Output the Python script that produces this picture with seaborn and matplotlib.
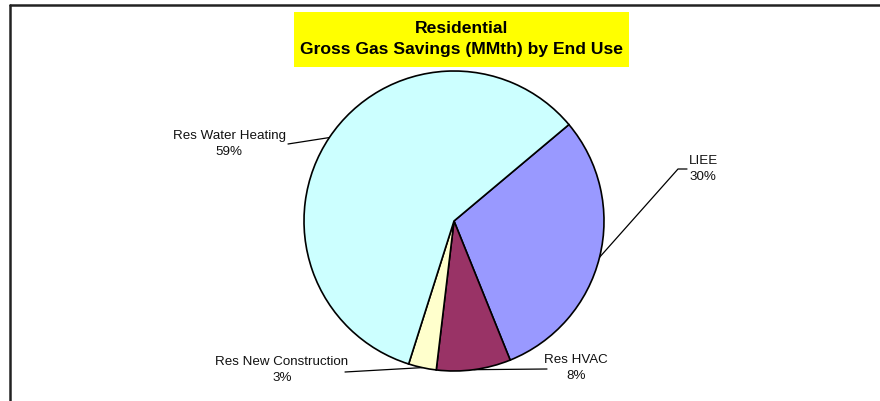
import numpy as np
import matplotlib
matplotlib.use("Agg")
import matplotlib.pyplot as plt
from matplotlib.lines import Line2D
import seaborn as sns

# Residential gross gas savings shares by end use (percent)
categories = ["LIEE", "Res HVAC", "Res New Construction", "Res Water Heating"]
shares = [30, 8, 3, 59]
colors_hex = ["#9999FF", "#993366", "#FFFFCC", "#CCFFFF"]

sns.set_theme(style="white")
plt.rcParams["font.family"] = ["Liberation Sans", "DejaVu Sans"]
palette = sns.color_palette(colors_hex)

W, H = 880, 401
fig = plt.figure(figsize=(W / 100, H / 100), dpi=100)
fig.patch.set_facecolor("white")

def fx(px):
    return px / W

def fy(py):
    return 1 - py / H

# pie axes: centre (454, 221) px, radius 150 px
cx, cy, r = 454, 221, 150
ax = fig.add_axes([fx(cx - r), fy(cy + r), 2 * r / W, 2 * r / H])
wedges, _ = ax.pie(shares, colors=palette, startangle=40, counterclock=False,
                   radius=1.0, wedgeprops=dict(edgecolor="black", linewidth=1.2))
ax.set_xlim(-1, 1)
ax.set_ylim(-1, 1)
ax.set_aspect("equal")
ax.axis("off")

def edge_point(w):
    ang = np.deg2rad((w.theta1 + w.theta2) / 2)
    return cx + r * np.cos(ang), cy - r * np.sin(ang)

def leader(points):
    xs = [fx(p[0]) for p in points]
    ys = [fy(p[1]) for p in points]
    fig.add_artist(Line2D(xs, ys, color="black", linewidth=0.9))

label_style = dict(fontsize=9.6, ha="center", va="center", multialignment="center",
                   linespacing=1.45, color="#111111")

# LIEE
liee = wedges[0]
leader([edge_point(liee), (678, 169), (687, 169)])
fig.text(fx(703), fy(169), f"{categories[0]}\n{shares[0]}%", **label_style)

# Res HVAC
leader([edge_point(wedges[1]), (547, 369)])
fig.text(fx(576), fy(368), f"{categories[1]}\n{shares[1]}%", **label_style)

# Res New Construction
leader([(345, 372), edge_point(wedges[2])])
fig.text(fx(282), fy(370), f"{categories[2]}\n{shares[2]}%", **label_style)

# Res Water Heating
leader([(288, 144), edge_point(wedges[3])])
fig.text(fx(229), fy(144), f"{categories[3]}\n{shares[3]}%", **label_style)

# title box
fig.text(fx(461.5), fy(39), "Residential\nGross Gas Savings (MMth) by End Use",
         fontsize=12.6, fontweight="bold", ha="center", va="center",
         multialignment="center", linespacing=1.45, color="black")
fig.add_artist(plt.Rectangle((fx(294), fy(67)), fx(629) - fx(294), fy(12) - fy(67),
                             transform=fig.transFigure, facecolor="#FFFF00",
                             edgecolor="none", zorder=-1))

# chart area frame (top and left edges)
fig.add_artist(Line2D([fx(9.5), 1.0], [fy(5), fy(5)], color="#222222", linewidth=1.8))
fig.add_artist(Line2D([fx(9.5), fx(9.5)], [fy(5), 0.0], color="#222222", linewidth=1.8))

fig.savefig("out.png", dpi=100, facecolor="white")
